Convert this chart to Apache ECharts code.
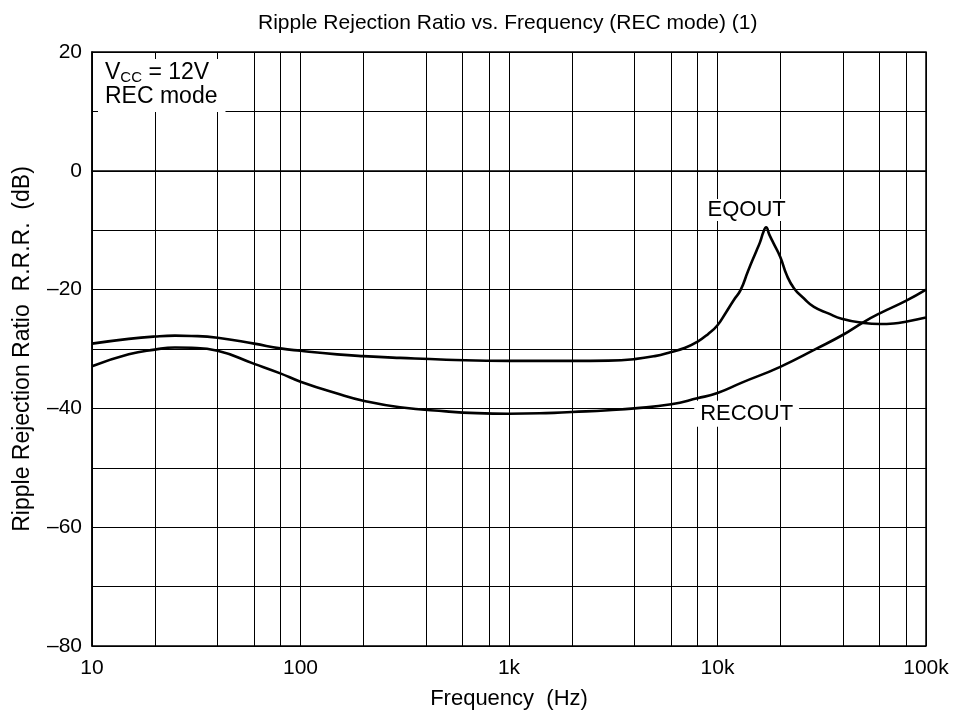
<!DOCTYPE html>
<html>
<head>
<meta charset="utf-8">
<script src="https://cdn.jsdelivr.net/npm/echarts@6/dist/echarts.min.js"></script>
<style>
  html, body { margin: 0; padding: 0; background: #fff; }
  #chart { width: 961px; height: 719px; }
</style>
</head>
<body>
<div id="chart"></div>
<script>
// values
var eqFreq = [10, 15, 20, 25, 30, 40, 60, 80, 100, 150, 200, 300, 500, 1000, 2000, 3000, 4000, 5000, 6000, 7000, 8000, 9000, 10000, 11000, 12000, 12900, 14000, 15400, 16000, 16600, 17100, 17700, 18500, 20000, 21500, 23300, 26000, 29000, 34000, 39400, 50000, 60000, 70000, 80000, 100000];
var eqDb   = [-29.1, -28.3, -27.9, -27.75, -27.8, -28.1, -29.1, -29.9, -30.3, -30.9, -31.2, -31.5, -31.8, -32.0, -32.0, -31.95, -31.7, -31.2, -30.5, -29.8, -28.8, -27.5, -26.0, -23.8, -21.7, -20.1, -16.9, -13.4, -12.0, -10.3, -9.5, -10.7, -12.1, -14.5, -17.6, -19.8, -21.5, -22.9, -24.0, -24.9, -25.6, -25.8, -25.7, -25.4, -24.7];

var recFreq = [10, 15, 20, 25, 30, 40, 60, 80, 100, 150, 200, 300, 500, 700, 1000, 1500, 2000, 3000, 4000, 6000, 8000, 10000, 13000, 20000, 30000, 40000, 50000, 60000, 80000, 100000];
var recDb   = [-32.9, -30.9, -30.1, -29.75, -29.8, -30.3, -32.5, -34.1, -35.5, -37.5, -38.7, -39.8, -40.5, -40.8, -40.9, -40.8, -40.6, -40.3, -40.0, -39.3, -38.3, -37.4, -35.7, -33.0, -29.9, -27.6, -25.5, -24.0, -21.9, -20.0];

// minor vertical grid lines (2, 4, 6, 8 of each decade)
var minorLines = [20, 40, 60, 80, 200, 400, 600, 800, 2000, 4000, 6000, 8000, 20000, 40000, 60000, 80000];

// label anchors [freq, dB]
var eqLabelAt = [13800, -6.6];
var recLabelAt = [13800, -40.9];

var font = 'Liberation Sans, Arial, Helvetica, sans-serif';

function pairs(xs, ys) {
  return xs.map(function (x, i) { return [x, ys[i]]; });
}

var chart = echarts.init(document.getElementById('chart'));
chart.setOption({
  backgroundColor: '#fff',
  animation: false,
  title: {
    text: 'Ripple Rejection Ratio vs. Frequency (REC mode) (1)',
    left: 253,
    top: 8,
    textStyle: { fontFamily: font, fontSize: 21, fontWeight: 'normal', color: '#000' }
  },
  grid: {
    left: 92, right: 35, top: 52, bottom: 73,
    show: true, borderColor: '#000', borderWidth: 1.5
  },
  xAxis: {
    type: 'log',
    logBase: 10,
    min: 10,
    max: 100000,
    name: 'Frequency  (Hz)',
    nameLocation: 'middle',
    nameGap: 42,
    nameTextStyle: { fontFamily: font, fontSize: 22, color: '#000' },
    axisLine: { lineStyle: { color: '#000', width: 1.5 } },
    axisTick: { show: false },
    axisLabel: {
      fontFamily: font, fontSize: 21, color: '#000', margin: 12,
      formatter: function (v) {
        v = Math.round(v);
        return v >= 1000 ? (v / 1000) + 'k' : String(v);
      }
    },
    splitLine: { show: true, lineStyle: { color: '#000', width: 1 } }
  },
  yAxis: {
    type: 'value',
    min: -80,
    max: 20,
    interval: 10,
    name: 'Ripple Rejection Ratio  R.R.R.  (dB)',
    nameLocation: 'middle',
    nameGap: 58,
    nameTextStyle: { fontFamily: font, fontSize: 23, color: '#000', padding: [0, 0, 0, 0] },
    axisLine: { show: true, lineStyle: { color: '#000', width: 1.5 } },
    axisTick: { show: false },
    axisLabel: {
      fontFamily: font, fontSize: 21, color: '#000', margin: 10,
      formatter: function (v) {
        if (v % 20 !== 0) return '';
        return v < 0 ? '\u2013' + Math.abs(v) : String(v);
      }
    },
    splitLine: { show: true, lineStyle: { color: '#000', width: 1 } }
  },
  series: [
    {
      name: 'grid',
      type: 'line',
      data: [],
      z: 1,
      silent: true,
      markLine: {
        silent: true,
        symbol: 'none',
        label: { show: false },
        lineStyle: { color: '#000', width: 1, type: 'solid' },
        data: minorLines.map(function (f) { return { xAxis: f }; })
      }
    },
    {
      name: 'EQOUT',
      type: 'line',
      data: pairs(eqFreq, eqDb),
      smooth: 0.5,
      showSymbol: false,
      z: 5,
      lineStyle: { color: '#000', width: 2.6 },
      markPoint: {
        symbolSize: 0,
        label: {
          show: true, position: 'inside', formatter: 'EQOUT',
          fontFamily: font, fontSize: 22, color: '#000',
          backgroundColor: '#fff', padding: [0, 3]
        },
        data: [{ coord: eqLabelAt }]
      }
    },
    {
      name: 'RECOUT',
      type: 'line',
      data: pairs(recFreq, recDb),
      smooth: 0.5,
      showSymbol: false,
      z: 5,
      lineStyle: { color: '#000', width: 2.6 },
      markPoint: {
        symbolSize: 0,
        label: {
          show: true, position: 'inside', formatter: 'RECOUT',
          fontFamily: font, fontSize: 22, color: '#000',
          backgroundColor: '#fff', padding: [2, 6]
        },
        data: [{ coord: recLabelAt }]
      }
    }
  ],
  graphic: [
    {
      type: 'text',
      left: 98,
      top: 59,
      z: 10,
      style: {
        text: '{m|V}{s|CC}{m| = 12V}\n{m|REC mode}',
        backgroundColor: '#fff',
        padding: [2, 8, 3, 7],
        rich: {
          m: { fontFamily: font, fontSize: 23, lineHeight: 24, fill: '#000' },
          s: { fontFamily: font, fontSize: 15, lineHeight: 12, verticalAlign: 'bottom', fill: '#000' }
        }
      }
    }
  ]
});
</script>
</body>
</html>
